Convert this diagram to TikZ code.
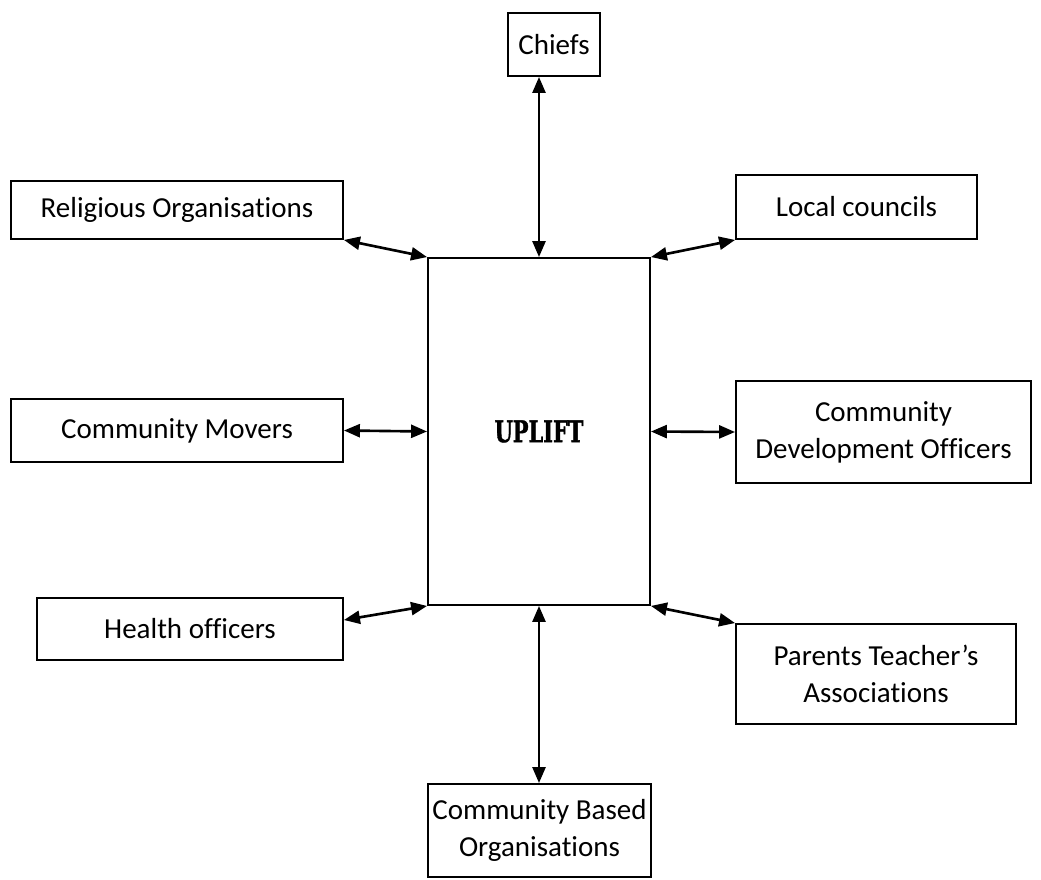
\documentclass[tikz,border=0pt]{standalone}
\usepackage{fontspec}
\setmainfont{Carlito}[Ligatures=NoCommon]
\newfontfamily\upliftfont{DejaVu Serif}[FakeStretch=0.7,BoldFeatures={FakeBold=1.2}]
\usetikzlibrary{arrows.meta}
\usetikzlibrary{positioning}

\tikzset{
  party/.style={draw, line width=1.1pt, inner sep=0pt, align=center,
    font=\fontsize{16.5}{21}\selectfont},
  link/.style={line width=1.5pt,
    {Triangle[length=0.32cm,width=0.26cm]}-{Triangle[length=0.32cm,width=0.26cm]}}
}

\begin{document}
\begin{tikzpicture}[x=0.02cm,y=-0.02cm]
  \useasboundingbox (0,0) rectangle (1041,879);
  % centre box
  \node[party, minimum width=4.44cm, minimum height=6.94cm,
    font=\upliftfont\bfseries\fontsize{17}{20}\selectfont] (uplift) at (539,431.5) {UPLIFT};

  \node[party, minimum width=1.84cm, minimum height=1.26cm] (chiefs) at (554,44.5) {Chiefs};
  \node[party, minimum width=6.64cm, minimum height=1.16cm] (relig) at (177,210) {Religious Organisations};
  \node[party, minimum width=4.82cm, minimum height=1.28cm] (local) at (856.5,207) {Local councils};
  \node[party, minimum width=6.64cm, minimum height=1.26cm] (movers) at (177,430.5) {Community Movers};
  \node[party, minimum width=5.9cm, minimum height=2.04cm] (cdo) at (883.5,432) {Community\\Development Officers};
  \node[party, minimum width=6.12cm, minimum height=1.24cm] (health) at (190,629) {Health officers};
  \node[party, minimum width=5.6cm, minimum height=2cm] (pta) at (876,674) {Parents Teacher’s\\Associations};
  \node[party, minimum width=4.46cm, minimum height=1.86cm] (cbo) at (539.5,830.5) {Community Based\\Organisations};

  % links
  \draw[link] (uplift.north) -- (uplift.north |- chiefs.south);
  \draw[link] (relig.south east) -- (uplift.north west);
  \draw[link] (uplift.north east) -- (local.south west);
  \draw[link] (movers.east) -- (uplift.west);
  \draw[link] (uplift.east) -- (cdo.west);
  \draw[link] (uplift.south west) -- ([yshift=0.18cm]health.east);
  \draw[link] (uplift.south east) -- (pta.north west);
  \draw[link] (uplift.south) -- (uplift.south |- cbo.north);
\end{tikzpicture}
\end{document}
